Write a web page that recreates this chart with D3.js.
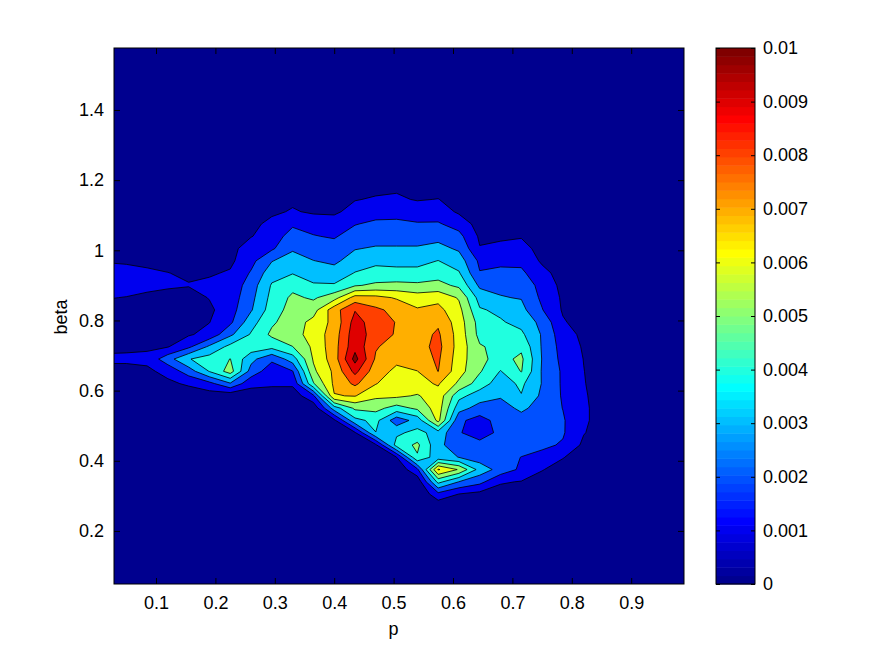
<!DOCTYPE html>
<html>
<head>
<meta charset="utf-8">
<title>beta vs p</title>
<script src="https://cdn.jsdelivr.net/npm/d3@7"></script>
<style>
  body { margin: 0; background: #fff; }
  text { font-family: "Liberation Sans", Arial, Helvetica, sans-serif; font-size: 18px; fill: #000; }
</style>
</head>
<body>
<div id="chart"></div>
<script>
// sampling grid of the surface (p across, beta up)
var pStart = 0.015, pStep = 0.035, nCols = 29;
var betaStart = 0.025, betaStep = 0.035, nRows = 46;

// values, in units of 0.001
// listed from the top row (beta = 1.215, row 34) down to beta = 0.27 (row 7); other rows are 0
var topRow = 34;
var densityRows = [
  [0,0,0,0,0,0,0,0,0,0,0,0,0.3,0.5,0.6,0.4,0.3,0,0,0,0,0,0,0,0,0,0,0,0],
  [0,0,0,0,0,0,0,0,0.3,0.4,0.3,0.4,0.6,0.75,0.9,0.7,0.7,0.4,0.2,0.2,0.2,0,0,0,0,0,0,0,0],
  [0,0,0,0,0,0,0.1,0.3,0.6,0.8,0.65,0.6,0.95,1.1,1.1,0.95,1.02,0.7,0.4,0.4,0.4,0.2,0,0,0,0,0,0,0],
  [0,0,0,0,0,0.1,0.3,0.5,0.8,1.1,0.85,0.8,1.4,1.6,1.6,1.4,1.5,0.85,0.55,0.55,0.6,0.3,0.1,0,0,0,0,0,0],
  [0,0,0,0,0.1,0.2,0.4,0.7,1.3,1.85,1.65,1.55,1.95,2.2,2.25,2.1,2.1,1.6,0.6,0.65,0.7,0.45,0.2,0,0,0,0,0,0],
  [0,0,0,0.1,0.2,0.3,0.5,0.95,1.5,2.4,2.05,1.9,2.45,2.6,2.6,2.6,2.7,2.3,0.85,0.9,0.95,0.6,0.3,0.1,0,0,0,0,0],
  [0.3,0.3,0.3,0.3,0.3,0.4,0.65,1.55,1.85,2.85,2.5,2.4,2.95,3.1,3.1,3.1,3.3,2.85,1.05,1.15,1.25,0.75,0.4,0.15,0,0,0,0,0],
  [0.95,0.9,0.8,0.7,0.6,0.65,0.8,1.7,2.95,3.5,3.02,2.8,3.45,3.8,3.75,3.7,4.02,3.5,1.8,1.8,1.75,0.85,0.45,0.15,0,0,0,0,0],
  [1.3,1.25,1.15,1.02,0.85,0.9,1.1,2.1,3.6,3.95,3.6,3.4,4.05,4.3,4.25,4.3,4.6,4.1,2.05,2.2,2.2,1.3,0.6,0.2,0,0,0,0,0],
  [1.4,1.35,1.25,1.12,1.05,1.2,1.3,2.5,4.1,4.7,4.1,4.1,4.9,5.2,5.3,5.2,5.3,4.8,2.8,2.8,2.75,1.6,0.75,0.3,0,0,0,0,0],
  [1.05,0.97,0.8,0.7,0.6,1.05,1.45,2.7,4.3,5.2,4.85,5.6,7.4,7.3,6.9,6.5,6.7,5.9,3.6,3.05,2.95,1.8,0.85,0.35,0.1,0,0,0,0],
  [0.7,0.6,0.5,0.5,0.55,0.8,1.6,2.9,4.5,5.4,5.6,7.6,8.95,8.2,7.7,7.1,7.3,6.3,4.1,3.8,3.3,2.05,0.9,0.4,0.15,0,0,0,0],
  [0.5,0.45,0.4,0.4,0.45,0.98,1.8,3.6,4.85,5.5,6.3,7.3,9.4,8.5,7.95,7.5,7.85,6.5,4.6,4.1,3.7,2.7,1.1,0.6,0.25,0,0,0,0],
  [0.4,0.4,0.45,0.6,0.9,1.3,2.8,4.1,5.2,5.6,6.4,7.5,9.6,8.5,7.9,7.6,8.15,6.6,4.7,4.5,4.2,2.9,1.4,0.8,0.35,0,0,0,0],
  [0.75,0.8,0.85,0.95,1.8,3.2,4.3,4.6,4.3,4.98,6.2,7.6,9.7,8.1,7.5,7.6,8.3,6.6,5.1,4.7,4.8,2.9,1.6,0.9,0.4,0,0,0,0],
  [1.2,1.2,1.25,2.6,3.95,4.4,5.02,3.3,2.2,3.5,6.1,7.5,10.35,7.85,7.2,7.5,8.15,6.5,5.2,4.7,5.2,2.95,1.7,0.98,0.5,0,0,0,0],
  [0.65,0.65,0.8,1.3,2.5,4.05,5.45,2.6,1.4,1.95,5.8,7.2,9.3,7.4,6.8,6.98,8.02,6.4,5.1,3.95,5.05,2.9,1.85,1.02,0.5,0,0,0,0],
  [0.3,0.3,0.4,0.8,1.15,1.7,2.9,1.3,1.2,1.2,4.9,7.2,8.2,7.05,6.4,6.7,7.1,5.8,4.5,3.5,4.2,2.95,1.85,1.05,0.55,0,0,0,0],
  [0.1,0.1,0.1,0.3,0.4,0.5,0.3,0.5,0.4,0.4,1.8,6.95,7.05,6.2,6.2,5.9,6.6,4.3,3.5,3.1,3.95,2.8,1.9,1.1,0.6,0,0,0,0],
  [0,0,0,0,0,0,0,0,0,0.1,0.3,3.5,5.2,5.3,4.6,5.2,6.5,3.4,2.6,2.6,3.2,2.6,1.98,1.15,0.6,0,0,0,0],
  [0,0,0,0,0,0,0,0,0,0,0,0.8,3.7,4.3,2.4,3.4,6.3,2.2,1.6,2.4,2.6,2.5,2.1,1.15,0.6,0,0,0,0],
  [0,0,0,0,0,0,0,0,0,0,0,0.3,0.9,3.98,3.8,4.3,3.6,2.1,1.4,2.3,2.5,2.4,2.1,1.05,0.55,0,0,0,0],
  [0,0,0,0,0,0,0,0,0,0,0,0,0.3,0.85,4.4,5.2,3.3,2.3,2.4,2.3,2.4,2.2,1.9,0.8,0.4,0,0,0,0],
  [0,0,0,0,0,0,0,0,0,0,0,0,0,0.2,0.98,4.9,3.4,2.98,2.5,2.4,1.98,1.7,1.05,0.5,0.2,0,0,0,0],
  [0,0,0,0,0,0,0,0,0,0,0,0,0,0,0.2,1.8,7.1,5.9,3.6,2.6,1.8,1.05,0.6,0.3,0,0,0,0,0],
  [0,0,0,0,0,0,0,0,0,0,0,0,0,0,0,0.3,4.3,2.98,2.3,1.1,0.95,0.6,0.3,0,0,0,0,0,0],
  [0,0,0,0,0,0,0,0,0,0,0,0,0,0,0,0,1.7,0.98,0.7,0.6,0.5,0.3,0,0,0,0,0,0,0],
  [0,0,0,0,0,0,0,0,0,0,0,0,0,0,0,0,0.3,0.3,0.2,0.2,0.1,0,0,0,0,0,0,0,0]
];

var levels = [0, 0.001, 0.002, 0.003, 0.004, 0.005, 0.006, 0.007, 0.008, 0.009, 0.01];
var xTicks = [0.1, 0.2, 0.3, 0.4, 0.5, 0.6, 0.7, 0.8, 0.9];
var yTicks = [0.2, 0.4, 0.6, 0.8, 1, 1.2, 1.4];

var plot = { left: 114, top: 48, width: 570, height: 536 };
var cbar = { left: 716, width: 39 };

// matlab style jet with 64 entries
function jet64(i) {
  function u(k) {
    if (k < 1 || k > 47) return 0;
    if (k <= 16) return k / 16;
    if (k <= 31) return 1;
    return (48 - k) / 16;
  }
  var r = u(i - 24), g = u(i - 8), b = u(i + 8);
  return d3.rgb(Math.round(r * 255), Math.round(g * 255), Math.round(b * 255)).toString();
}
function levelColor(k) {
  return jet64(Math.min(64, Math.floor(k * 64 / 10) + 1));
}

var values = [];
for (var j = 0; j < nRows; j++) {
  var row = densityRows[topRow - j] || [];
  for (var i = 0; i < nCols; i++) values.push((row[i] || 0) / 1000);
}

var x = d3.scaleLinear().domain([0.0293, 0.9889]).range([plot.left, plot.left + plot.width]);
var y = d3.scaleLinear().domain([0.0487, 1.5767]).range([plot.top + plot.height, plot.top]);
var c = d3.scaleLinear().domain([0, 0.01]).range([plot.top + plot.height, plot.top]);

var svg = d3.select("#chart").append("svg")
  .attr("width", 875)
  .attr("height", 659);

svg.append("clipPath").attr("id", "plotClip")
  .append("rect")
  .attr("x", plot.left).attr("y", plot.top)
  .attr("width", plot.width).attr("height", plot.height);

var gridToPlot = d3.geoTransform({
  point: function (gx, gy) {
    this.stream.point(x(pStart + (gx - 0.5) * pStep), y(betaStart + (gy - 0.5) * betaStep));
  }
});
var path = d3.geoPath(gridToPlot);

var bands = d3.contours().size([nCols, nRows]).thresholds(levels)(values);

svg.append("g")
  .attr("clip-path", "url(#plotClip)")
  .selectAll("path")
  .data(bands)
  .join("path")
  .attr("d", path)
  .attr("fill", function (d, k) { return levelColor(k); })
  .attr("stroke", function (d, k) { return k === 0 ? "none" : "#000"; })
  .attr("stroke-width", 0.8)
  .attr("stroke-linejoin", "round");

// axes, matlab look: ticks pointing inward on all four sides
var fmt = function (d) { return String(d); };

svg.append("g")
  .attr("transform", "translate(0," + (plot.top + plot.height) + ")")
  .call(d3.axisBottom(x).tickValues(xTicks).tickSize(-6).tickPadding(12).tickFormat(fmt));
svg.append("g")
  .attr("transform", "translate(0," + plot.top + ")")
  .call(d3.axisTop(x).tickValues(xTicks).tickSize(-6).tickFormat(""));
svg.append("g")
  .attr("transform", "translate(" + plot.left + ",0)")
  .call(d3.axisLeft(y).tickValues(yTicks).tickSize(-6).tickPadding(10).tickFormat(fmt));
svg.append("g")
  .attr("transform", "translate(" + (plot.left + plot.width) + ",0)")
  .call(d3.axisRight(y).tickValues(yTicks).tickSize(-6).tickFormat(""));

svg.selectAll(".domain").remove();

svg.append("rect")
  .attr("x", plot.left).attr("y", plot.top)
  .attr("width", plot.width).attr("height", plot.height)
  .attr("fill", "none").attr("stroke", "#000").attr("stroke-width", 1);

svg.append("text")
  .attr("x", x(0.5)).attr("y", 635)
  .attr("text-anchor", "middle")
  .text("p");
svg.append("text")
  .attr("transform", "translate(67," + y(0.81) + ") rotate(-90)")
  .attr("text-anchor", "middle")
  .text("beta");

// colour bar
var steps = d3.range(1, 65);
var stepH = plot.height / 64;
svg.append("g")
  .selectAll("rect")
  .data(steps)
  .join("rect")
  .attr("x", cbar.left)
  .attr("y", function (i) { return plot.top + plot.height - i * stepH; })
  .attr("width", cbar.width)
  .attr("height", stepH + 0.5)
  .attr("fill", function (i) { return jet64(i); });

svg.append("g")
  .attr("transform", "translate(" + (cbar.left + cbar.width) + ",0)")
  .call(d3.axisRight(c).tickValues(levels).tickSize(-4).tickPadding(8).tickFormat(fmt));
svg.append("g")
  .attr("transform", "translate(" + cbar.left + ",0)")
  .call(d3.axisLeft(c).tickValues(levels).tickSize(-4).tickFormat(""));
svg.selectAll(".domain").remove();

svg.append("rect")
  .attr("x", cbar.left).attr("y", plot.top)
  .attr("width", cbar.width).attr("height", plot.height)
  .attr("fill", "none").attr("stroke", "#000").attr("stroke-width", 1);
</script>
</body>
</html>
